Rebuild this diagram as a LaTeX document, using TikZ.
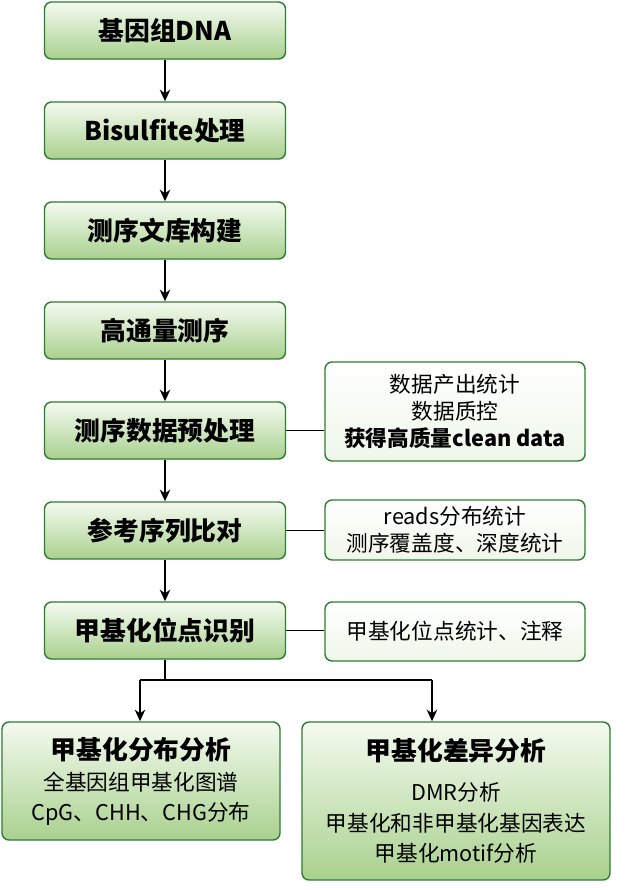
\documentclass[tikz,border=0pt]{standalone}
\usepackage{fontspec}
\setmainfont{Noto Sans CJK SC}
\usetikzlibrary{arrows.meta}
\definecolor{boxline}{HTML}{2E7D32}
\definecolor{boxtop}{HTML}{F4FAF0}
\definecolor{boxbot}{HTML}{A9D18E}
\tikzset{
  stepbox/.style={draw=boxline,line width=1.2pt,rounded corners=6pt,top color=boxtop,bottom color=boxbot,
    minimum width=7.23cm,minimum height=1.71cm,font=\fontsize{22}{26}\selectfont\bfseries},
  notebox/.style={draw=boxline,line width=1.2pt,rounded corners=6pt,top color=white,bottom color=boxtop!60!boxbot!40,
    minimum width=7.8cm,align=center,font=\fontsize{18.5}{23}\selectfont},
  flow/.style={-{Stealth[length=10pt,width=9pt]},line width=1.2pt},
  tie/.style={line width=1pt}
}
\begin{document}
\begin{tikzpicture}[x=0.03cm,y=-0.03cm]
\useasboundingbox (0,0) rectangle (630,890);
\node[stepbox] (dna) at (165,30.5) {基因组DNA};
\node[stepbox] (bis) at (165,130.5) {Bisulfite处理};
\node[stepbox] (lib) at (165,230.5) {测序文库构建};
\node[stepbox] (seq) at (165,330.5) {高通量测序};
\node[stepbox] (pre) at (165,430.5) {测序数据预处理};
\node[stepbox] (ali) at (165,530.5) {参考序列比对};
\node[stepbox] (met) at (165,630.5) {甲基化位点识别};

\node[notebox,minimum height=2.97cm] (qc) at (455,411.5) {数据产出统计\\数据质控\\\textbf{获得高质量clean data}};
\node[notebox,minimum height=1.8cm] (cov) at (455,530) {reads分布统计\\测序覆盖度、深度统计};
\node[notebox,minimum height=1.77cm] (ann) at (455,631.5) {甲基化位点统计、注释};

\node[stepbox,minimum width=8.34cm,minimum height=3.54cm,align=center,font=\fontsize{18.5}{25}\selectfont] (dist) at (141,781)
  {{\fontsize{22}{26}\selectfont\bfseries 甲基化分布分析}\\[2pt]全基因组甲基化图谱\\CpG、CHH、CHG分布};
\node[stepbox,minimum width=9.24cm,minimum height=4.74cm,align=center,font=\fontsize{18.5}{26}\selectfont] (diff) at (456,801)
  {{\fontsize{22}{26}\selectfont\bfseries 甲基化差异分析}\\[8pt]DMR分析\\甲基化和非甲基化基因表达\\甲基化motif分析};

\draw[flow] (dna) -- (bis);
\draw[flow] (bis) -- (lib);
\draw[flow] (lib) -- (seq);
\draw[flow] (seq) -- (pre);
\draw[flow] (pre) -- (ali);
\draw[flow] (ali) -- (met);
\draw[tie] (pre.east) -- (qc.west |- pre.east);
\draw[tie] (ali.east) -- (cov.west |- ali.east);
\draw[tie] (met.east) -- (ann.west |- met.east);
\coordinate (fork) at (165,680);
\coordinate (forkL) at (140,680);
\coordinate (forkR) at (432,680);
\draw[tie] (met.south) -- (fork);
\draw[tie] (forkL) -- (forkR);
\draw[flow] (forkL) -- (forkL |- dist.north);
\draw[flow] (forkR) -- (forkR |- diff.north);
\end{tikzpicture}
\end{document}
